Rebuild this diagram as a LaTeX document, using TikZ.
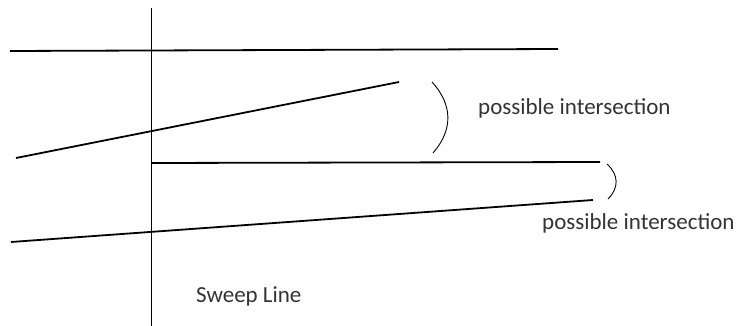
\documentclass[tikz,border=0pt]{standalone}
\usepackage{fontspec}
\setmainfont{Carlito}

\begin{document}
\begin{tikzpicture}[x=1pt,y=-1pt,
    segment/.style={black,line width=1.8pt},
    bracket/.style={black,line width=0.9pt},
    label/.style={anchor=base west,inner sep=0pt,text=black!80,font=\fontsize{23}{27}\selectfont}]
    \useasboundingbox (0,0) rectangle (736,326);

    % Sweep line
    \coordinate (sweeptop) at (151,8);
    \coordinate (sweepbot) at (151,326);
    \draw[black,line width=1pt] (sweeptop) -- (sweepbot);

    % Segments
    \coordinate (a1) at (10,51);  \coordinate (a2) at (558,49);
    \coordinate (b1) at (16,158); \coordinate (b2) at (399,82);
    \coordinate (c1) at (151,163); \coordinate (c2) at (600,162);
    \coordinate (d1) at (11,242); \coordinate (d2) at (593,200);
    \draw[segment] (a1) -- (a2);
    \draw[segment] (b1) -- (b2);
    \draw[segment] (c1) -- (c2);
    \draw[segment] (d1) -- (d2);

    % Brackets
    \draw[bracket] (432,82) .. controls (453,105) and (453,130) .. (433,153);
    \draw[bracket] (607,164) .. controls (619,175) and (619,188) .. (608,199);

    % Labels
    \node[label] (inter1) at (478,115) {possible intersection};
    \node[label] (inter2) at (542,229) {possible intersection};
    \node[label] (sweep) at (196,302) {Sweep Line};
\end{tikzpicture}
\end{document}
